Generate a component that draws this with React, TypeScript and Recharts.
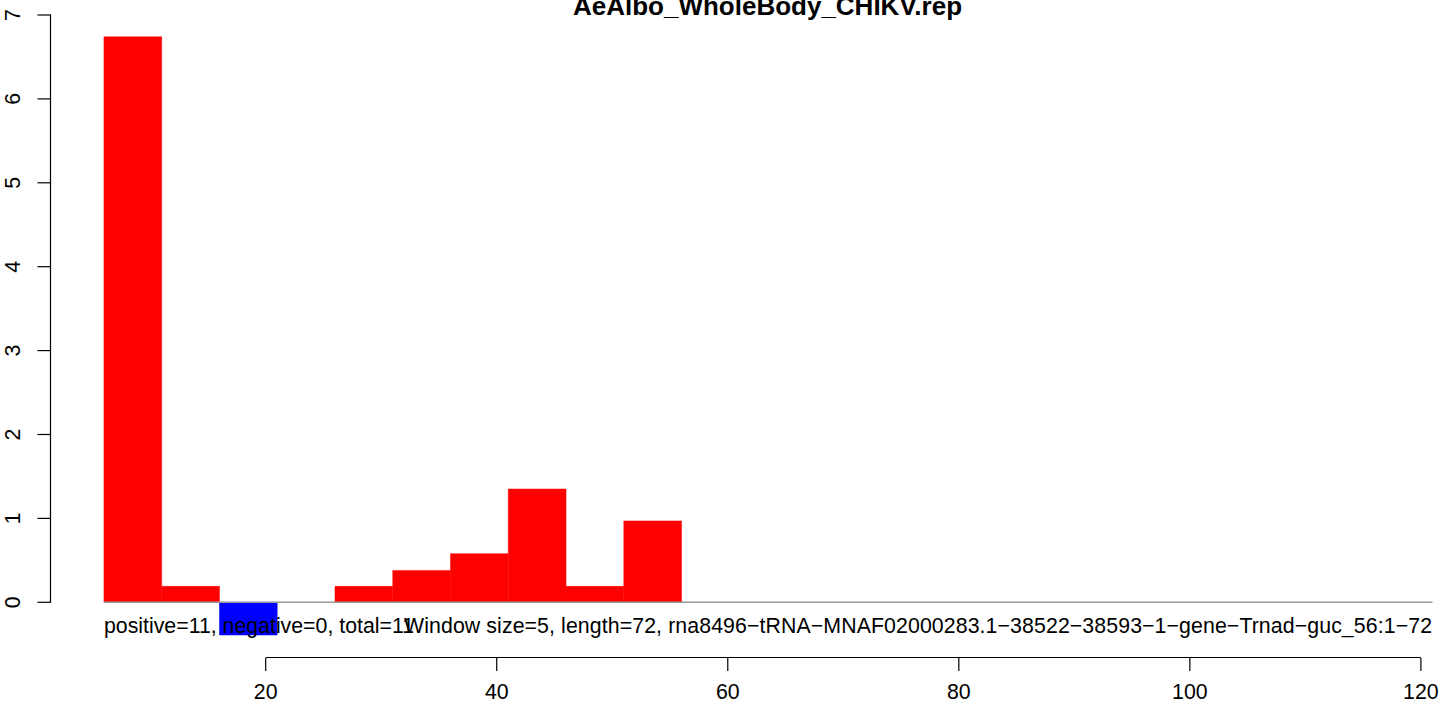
import React from 'react';
import { BarChart, Bar, Cell, XAxis, YAxis, ReferenceLine } from 'recharts';

// window bins (start of each 5-wide window) and their scores
const binStarts = [6, 11, 16, 21, 26, 31, 36, 41, 46, 51];
const scores = [6.74, 0.19, -0.39, 0, 0.19, 0.38, 0.58, 1.35, 0.19, 0.97];
const windowSize = 5;
const seqEnd = 121;

const xTicks = [20, 40, 60, 80, 100, 120];
const yTicks = [0, 1, 2, 3, 4, 5, 6, 7];

const titleText = 'AeAlbo_WholeBody_CHIKV.rep';
const countsText = 'positive=11, negative=0, total=11';
const infoText = 'Window size=5, length=72, rna8496\u2212tRNA\u2212MNAF02000283.1\u221238522\u221238593\u22121\u2212gene\u2212Trnad\u2212guc_56:1\u221272';

const W = 1444;
const H = 709;
const MARGIN_TOP = 15;
const X_AXIS_H = 51;
const Y_AXIS_W = 60;
const X_DOMAIN: [number, number] = [2.195, 122];
const Y_DOMAIN: [number, number] = [-0.664, 7];
const TICK = 13;
const Y_TICK_MARGIN = 27;
const Y_LINE_OFFSET = 30.5; // axis line sits this far right of the label baseline
const FONT = '"Liberation Sans", Arial, Helvetica, sans-serif';

const data = binStarts.map((s, i) => ({ mid: s + windowSize / 2, value: scores[i] }));

const pxPerUnit = (W - Y_AXIS_W) / (X_DOMAIN[1] - X_DOMAIN[0]);
const pxPerY = (H - MARGIN_TOP - X_AXIS_H) / (Y_DOMAIN[1] - Y_DOMAIN[0]);

// R style y tick: rotated label, tick mark, and the axis piece up to the next tick
const YTick = (props: any) => {
  const { x, y, payload, index } = props;
  const axisX = x + Y_LINE_OFFSET;
  const isLast = index === yTicks.length - 1;
  return (
    <g>
      <line x1={axisX - TICK} y1={y} x2={axisX} y2={y} stroke="#000" strokeWidth={1.2} />
      {!isLast && (
        <line x1={axisX} y1={y + 0.6} x2={axisX} y2={y - pxPerY - 0.6} stroke="#000" strokeWidth={1.2} />
      )}
      <text
        x={x}
        y={y}
        transform={`rotate(-90 ${x} ${y})`}
        textAnchor="middle"
        fontSize={21.3}
        fontFamily={FONT}
        fill="#000"
      >
        {payload.value}
      </text>
    </g>
  );
};

const App: React.FC = () => {
  return (
    <div style={{ position: 'absolute', left: 0, top: 0, width: W, height: H, background: '#fff' }}>
      <BarChart
        width={W}
        height={H}
        data={data}
        barGap={0}
        barCategoryGap={0}
        margin={{ top: MARGIN_TOP, right: 0, bottom: 0, left: 0 }}
      >
        <XAxis
          type="number"
          dataKey="mid"
          domain={X_DOMAIN}
          allowDataOverflow
          ticks={xTicks}
          interval={0}
          height={X_AXIS_H}
          axisLine={false}
          tickSize={TICK}
          tickMargin={13}
          tickLine={{ stroke: '#000', strokeWidth: 1.2 }}
          tick={{ fill: '#000', fontSize: 21.3, fontFamily: FONT }}
        />
        <YAxis
          type="number"
          domain={Y_DOMAIN}
          allowDataOverflow
          ticks={yTicks}
          interval={0}
          width={Y_AXIS_W}
          axisLine={false}
          tickLine={false}
          tickSize={TICK}
          tickMargin={Y_TICK_MARGIN}
          tick={<YTick />}
        />
        <ReferenceLine
          segment={[{ x: binStarts[0], y: 0 }, { x: seqEnd, y: 0 }]}
          stroke="#999"
          strokeWidth={1.5}
          ifOverflow="visible"
        />
        <Bar dataKey="value" barSize={windowSize * pxPerUnit - 0.02} isAnimationActive={false}>
          {data.map((d, i) => {
            const c = d.value < 0 ? '#0000ff' : '#ff0000';
            return <Cell key={`c-${i}`} fill={c} stroke={c} strokeWidth={0.5} />;
          })}
        </Bar>
        <ReferenceLine
          segment={[
            { x: xTicks[0], y: Y_DOMAIN[0] + 0.5 / pxPerY },
            { x: xTicks[xTicks.length - 1], y: Y_DOMAIN[0] + 0.5 / pxPerY },
          ]}
          stroke="#000"
          strokeWidth={1.2}
          ifOverflow="visible"
        />
      </BarChart>
      <svg
        width={W}
        height={H}
        style={{ position: 'absolute', left: 0, top: 0, pointerEvents: 'none' }}
      >
        <text x={767.5} y={15} textAnchor="middle" fontSize={26} fontWeight="bold" fontFamily={FONT} fill="#000">
          {titleText}
        </text>
        <text x={104} y={633} textAnchor="start" fontSize={21.3} fontFamily={FONT} fill="#000">
          {countsText}
        </text>
        <text
          x={1432}
          y={633}
          textAnchor="end"
          fontSize={21.3}
          fontFamily={FONT}
          fill="#000"
          textLength={1028}
        >
          {infoText}
        </text>
      </svg>
    </div>
  );
};

export default App;
